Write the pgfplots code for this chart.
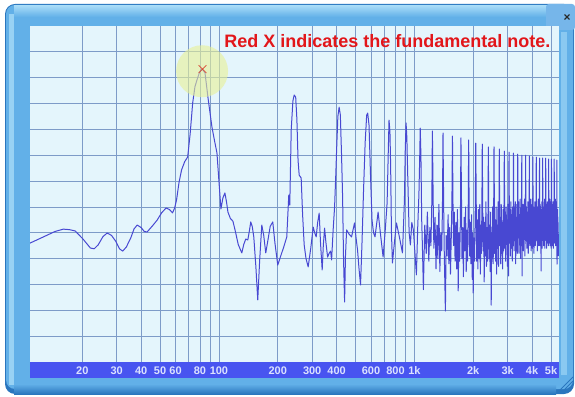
\documentclass[border=0pt]{standalone}
\usepackage{pgfplots}
\pgfplotsset{compat=1.18}
\usepackage{fontspec}
\setmainfont{Liberation Sans}
\definecolor{plotbg}{RGB}{228,245,252}
\definecolor{gridc}{RGB}{125,155,200}
\definecolor{curve}{RGB}{72,72,210}
\definecolor{barblue}{RGB}{72,84,240}
\definecolor{ticktext}{RGB}{220,226,255}
\definecolor{frameMid}{RGB}{98,176,232}
\definecolor{frameLight}{RGB}{165,218,247}
\definecolor{frameDark}{RGB}{42,118,190}
\definecolor{btn}{RGB}{118,182,234}
\definecolor{titlered}{RGB}{226,22,26}
\definecolor{glow}{RGB}{232,240,150}
\definecolor{xred}{RGB}{215,70,50}

\pgfplotstableread{
f L
10.8 4.60
12.9 4.87
14.5 5.05
16.0 5.14
17.2 5.12
18.4 5.07
20.2 4.75
22.0 4.41
23.0 4.38
24.1 4.53
25.5 4.85
26.8 4.99
28.2 4.90
29.6 4.68
31.0 4.38
32.2 4.29
33.6 4.45
35.4 4.80
36.8 5.15
38.2 5.30
40.0 5.20
41.5 5.05
42.9 5.03
45.5 5.25
48.3 5.49
51.0 5.78
53.7 5.96
55.8 5.90
57.9 5.77
59.3 5.95
60.7 6.27
62.5 6.95
64.4 7.43
66.8 7.75
69.2 7.93
71.2 8.80
73.4 10.02
75.4 10.65
77.2 10.91
79.5 11.20
80.9 11.30
82.4 11.32
84.9 11.18
88.0 10.20
92.1 9.09
95.0 8.55
97.7 8.09
100.0 7.00
102.4 5.92
104.8 6.35
107.3 6.54
109.3 6.20
111.2 5.80
114.5 5.55
117.9 5.45
121.0 5.10
125.5 4.55
130.9 4.22
134.0 4.55
137.2 4.76
140.5 4.72
143.0 5.05
145.5 5.42
148.0 5.25
150.8 4.84
154.5 3.70
158.0 2.40
161.5 3.90
165.7 5.30
169.5 4.90
173.6 4.22
178.0 4.70
183.0 5.25
188.6 5.42
193.5 4.60
200.0 3.75
207.0 4.10
214.6 4.45
222.4 4.84
227.7 6.46
230.4 6.07
234.3 8.97
239.0 10.10
242.7 10.33
247.0 10.25
250.5 9.40
254.0 7.80
257.4 7.23
263.5 7.12
268.0 5.70
273.0 4.53
279.0 4.00
286.2 3.68
295.0 4.40
303.6 5.22
309.0 5.00
314.5 4.84
320.0 5.40
325.8 5.76
331.0 4.60
337.5 3.56
342.0 4.50
347.2 5.18
353.0 4.60
359.8 4.06
366.0 4.20
372.7 4.29
377.1 3.95
384.0 5.10
390.7 6.00
396.0 7.20
400.0 8.20
406.0 9.50
412.1 9.86
418.0 9.56
424.0 8.00
429.3 6.38
434.0 4.00
439.5 2.32
444.0 4.10
450.0 5.11
463.0 4.95
477.0 4.84
485.0 5.10
494.1 5.38
503.0 4.80
511.9 4.33
521.0 3.60
530.3 2.98
540.0 4.70
549.4 6.65
560.0 8.50
570.0 9.55
576.9 9.63
586.0 9.17
596.0 7.30
607.1 5.49
618.0 5.00
628.9 4.84
640.0 5.30
652.2 5.80
672.0 4.90
691.8 4.06
708.0 5.00
725.2 6.15
734.0 7.90
741.7 9.36
750.0 8.90
756.0 7.60
763.2 5.03
772.2 3.83
790.0 4.60
809.5 5.38
840.0 4.80
868.8 4.22
880.0 5.30
889.4 6.27
898.0 8.20
906.5 9.25
915.0 8.70
926.0 7.00
940.0 5.00
954.0 4.53
970.0 5.40
988.0 5.11
1005 4.30
1024 3.37
1040 5.20
1055 6.50
1064 7.80
1071.3 9.05
1080 8.00
1090 5.50
1098 4.60
1112 2.80
1130 5.30
1150 4.20
1165 5.80
1185 3.90
1200 5.20
1215 4.50
1228 6.20
1236.2 8.94
1248 6.20
1258 4.40
1275 5.60
1290 3.60
1305 5.30
1318 4.00
1335 6.10
1350 3.50
1365 5.00
1380 4.30
1392 6.00
1401.0 8.86
1412 6.00
1422 4.20
1441 1.97
1455 4.90
1470 4.10
1488 5.70
1500 3.80
1515 5.20
1530 3.40
1545 4.90
1556 6.20
1565.8 8.74
1576 6.10
1586 4.50
1600 5.80
1615 3.90
1630 5.40
1645 3.60
1660 5.90
1676 2.75
1690 5.00
1705 3.90
1720 5.60
1730.6 8.67
1742 6.30
1752 4.00
1768 5.20
1782 3.30
1797 5.60
1812 4.30
1828 6.00
1842 3.50
1857 5.10
1870 3.90
1885 5.70
1895.4 8.59
1906 6.00
1916 4.10
1930 5.40
1945 3.80
1962 5.70
1978 3.20
1990 5.00
2000 2.67
2015 4.80
2030 3.90
2048 5.80
2060.3 8.47
2072 6.20
2082 3.90
2098 5.50
2112 3.60
2128 5.90
2145 4.00
2160 6.10
2175 3.40
2190 5.30
2203 4.20
2214 5.90
2225.1 8.43
2236 6.00
2246 4.30
2262 5.60
2276 3.10
2292 5.40
2307 4.10
2322 6.20
2338 3.70
2352 5.20
2366 3.90
2380 5.70
2389.9 8.32
2400 6.10
2410 4.00
2425 5.30
2440 3.50
2456 5.80
2472 2.20
2486 5.00
2500 4.00
2516 6.00
2530 3.80
2544 5.60
2554.7 8.32
2565 6.30
2575 4.20
2590 5.50
2605 3.90
2620 6.00
2636 3.40
2650 5.30
2664 4.40
2680 6.20
2694 3.70
2708 5.80
2719.5 8.24
2729 6.00
2738 4.50
2752 5.60
2766 3.80
2782 6.10
2797 4.20
2812 5.40
2828 3.60
2843 5.90
2857 4.30
2872 5.70
2884.4 8.16
2894 6.20
2903 4.40
2918 5.80
2932 3.90
2948 6.00
2963 4.60
2978 5.50
2993 3.70
3008 6.10
3022 4.30
3036 3.33
3042 5.60
3049.2 8.12
3058 6.30
3070 4.60
3085 5.90
3100 4.10
3118 6.20
3135 4.40
3150 5.70
3168 3.90
3185 6.00
3200 4.50
3207 5.80
3214.0 8.08
3223 6.10
3235 4.30
3250 5.80
3266 4.70
3282 6.20
3298 3.80
3314 5.60
3330 4.60
3346 6.10
3360 4.20
3371 5.90
3378.8 8.04
3388 6.00
3399 4.80
3415 6.20
3430 4.20
3446 5.70
3462 4.90
3478 6.30
3494 4.00
3510 5.80
3525 4.50
3536 6.00
3543.6 8.00
3552 6.20
3556 3.33
3566 5.50
3580 4.60
3596 6.10
3612 4.30
3628 5.90
3644 4.80
3660 6.30
3676 4.10
3692 5.70
3701 6.10
3708.5 8.00
3717 6.30
3728 4.70
3744 6.00
3760 4.40
3776 5.80
3792 4.90
3808 6.20
3824 4.20
3840 5.90
3855 4.60
3866 6.10
3873.3 7.97
3882 6.20
3893 4.50
3909 5.90
3925 4.80
3941 6.30
3957 4.30
3973 5.70
3989 4.90
4005 6.10
4020 4.40
4031 6.00
4038.1 7.93
4047 6.30
4058 4.60
4074 6.00
4090 4.20
4106 5.80
4122 4.90
4138 6.20
4154 4.50
4170 5.90
4185 4.70
4196 6.10
4202.9 7.93
4212 6.20
4223 4.80
4239 6.00
4255 4.30
4271 5.90
4287 4.90
4303 6.30
4319 4.50
4335 5.80
4350 4.60
4361 6.10
4367.7 7.89
4377 6.30
4388 4.50
4404 6.10
4420 4.80
4436 5.90
4447 3.52
4458 5.70
4474 4.60
4490 6.20
4505 4.40
4516 5.90
4526 6.10
4532.6 7.89
4541 6.20
4552 4.70
4568 6.00
4584 4.50
4600 5.90
4616 4.90
4632 6.30
4648 4.40
4664 5.80
4680 4.70
4690 6.10
4697.4 7.89
4706 6.30
4717 4.80
4733 6.10
4749 4.40
4765 5.90
4781 4.90
4797 6.20
4813 4.60
4829 5.80
4845 4.50
4855 6.10
4862.2 7.85
4871 6.20
4882 4.60
4898 6.00
4914 4.90
4930 6.30
4946 4.50
4962 5.90
4978 4.80
4994 6.20
5010 4.40
5020 6.00
5027.0 7.85
5036 6.30
5047 4.70
5063 6.10
5079 4.50
5095 5.90
5111 4.90
5127 6.20
5143 4.40
5159 6.00
5175 4.70
5185 6.10
5191.8 7.85
5201 6.20
5212 4.60
5228 6.00
5244 4.80
5260 6.30
5276 4.50
5292 5.90
5308 4.90
5324 6.20
5340 4.60
5350 6.00
5356.7 7.81
5366 3.79
5380 5.60
5395 4.40
5410 5.90
5425 4.60
5440 5.40
5455 4.10
}\spectrum

\begin{document}
\begin{tikzpicture}
\path[use as bounding box] (0pt,0pt) rectangle (575pt,396pt);
\begin{scope}[x=1pt, y=-1pt, yshift=396pt]
% window frame
\fill[frameDark, rounded corners=10pt] (5,4) rectangle (574,394);
\fill[frameMid, rounded corners=9pt] (6,5) rectangle (573,389);
\shade[top color=frameLight, bottom color=frameMid] (14,6) rectangle (556,17);
\fill[frameLight!80!frameMid] (9,14) rectangle (14,385);
\fill[frameLight!60!frameMid] (561,32) rectangle (567,375);
\shade[top color=frameMid, bottom color=frameDark] (14,384) rectangle (556,394);
\fill[btn, rounded corners=3pt] (546,4) rectangle (575,30);
\node[font=\bfseries\fontsize{12}{12}\selectfont, text=black!85] at (567,18) {×};
\foreach \i in {0,4,8} \draw[frameDark, line width=1pt] (558+\i,392) -- (573,377+\i);
% frequency label bar
\fill[barblue] (30,362) rectangle (559,378);
\end{scope}

\begin{axis}[
  at={(30pt,34pt)}, anchor=south west,
  scale only axis, width=529pt, height=336pt,
  xmode=log, xmin=10.8, xmax=5494,
  ymin=0, ymax=13,
  axis background/.style={fill=plotbg},
  axis line style={draw=none},
  major tick length=0pt, minor tick length=0pt,
  xtick={20,30,40,50,60,80,100,200,300,400,600,800,1000,2000,3000,4000,5000},
  xticklabels={20,30,40,50,60,80,100,200,300,400,600,800,1k,2k,3k,4k,5k},
  minor xtick={70,90,500,700,900},
  ytick={1,2,3,4,5,6,7,8,9,10,11,12},
  yticklabels={},
  xmajorgrids, xminorgrids, ymajorgrids,
  grid style={gridc, line width=0.8pt},
  minor grid style={gridc, line width=0.8pt},
  xticklabel style={anchor=base, yshift=-12.8pt, text=ticktext,
    font=\bfseries\fontsize{11}{12}\selectfont},
]
\addplot[only marks, mark=*, mark size=26pt,
  mark options={fill=glow, draw=glow, fill opacity=0.6, draw opacity=0}] coordinates {(82,11.25)};
\addplot[curve, line width=1pt, line join=round] table[x=f, y=L] {\spectrum};
\addplot[only marks, mark=x, mark size=5.5pt, xred,
  mark options={line width=0.8pt}] coordinates {(82.4,11.33)};
\end{axis}
\node[anchor=base east, text=titlered,
  font=\bfseries\fontsize{18}{20}\selectfont] at (554pt,348.3pt)
  {Red X indicates the fundamental note.};
\end{tikzpicture}
\end{document}
